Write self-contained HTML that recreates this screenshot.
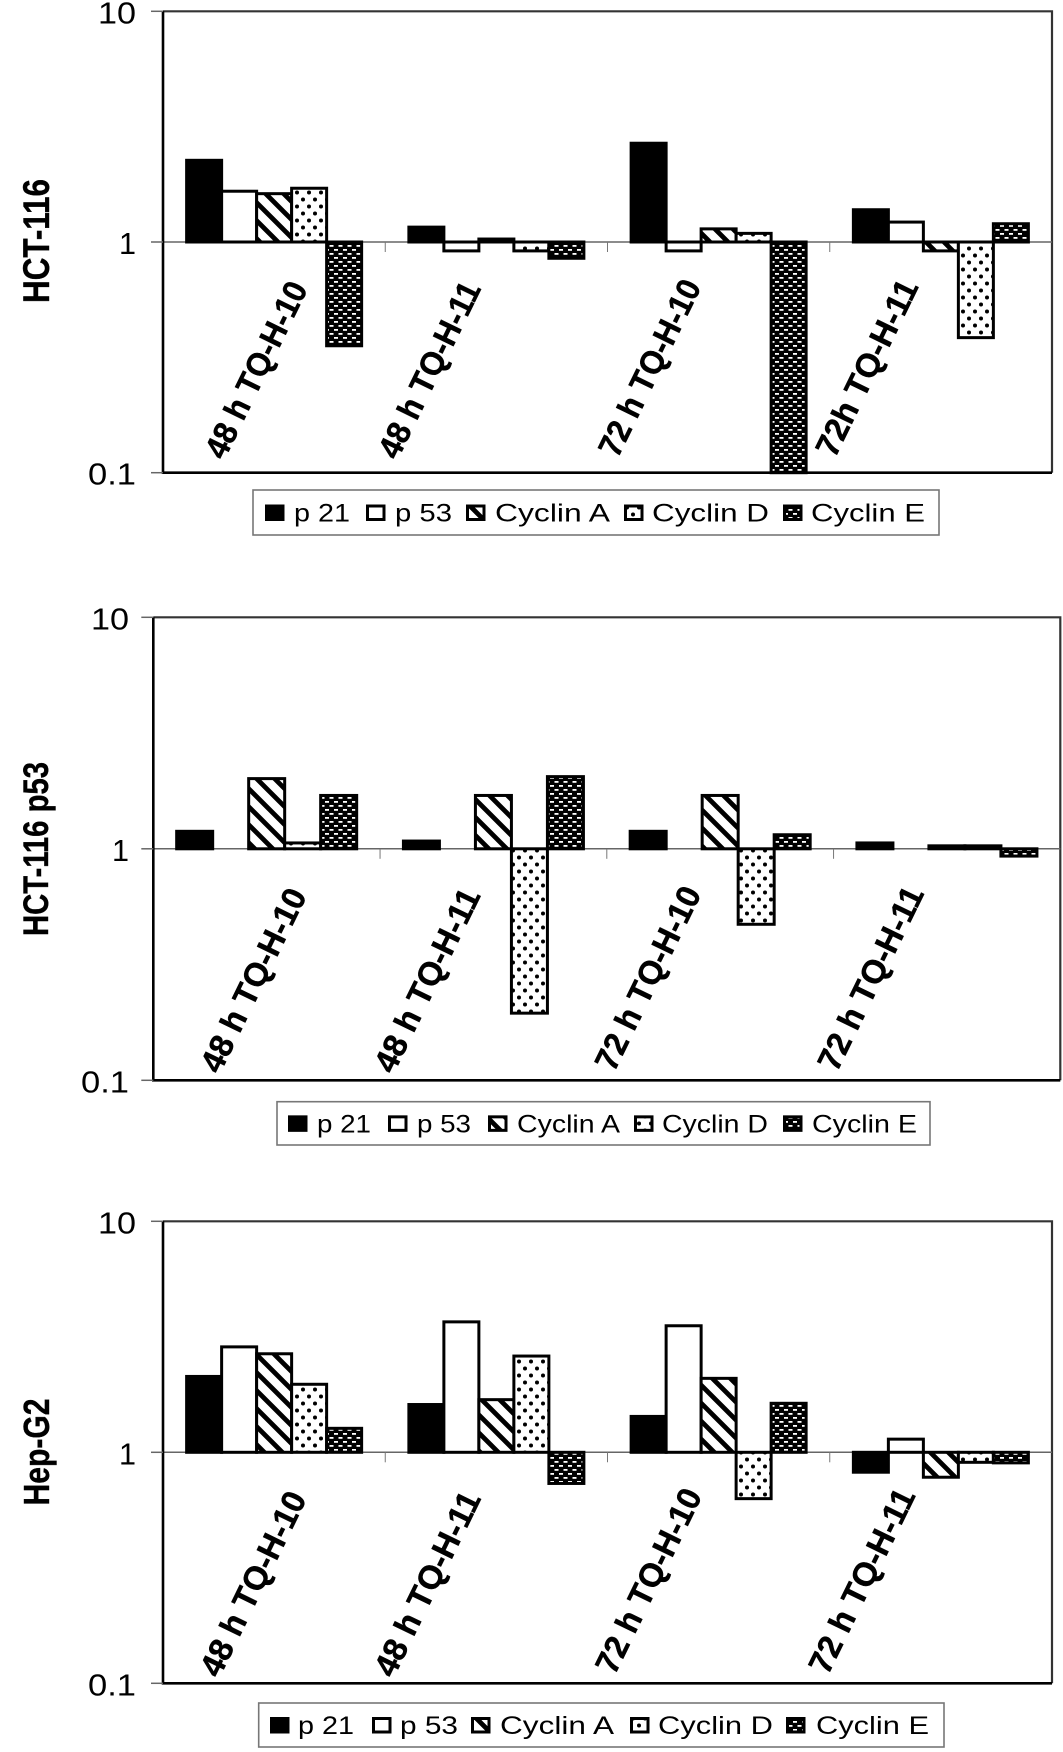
<!DOCTYPE html>
<html lang="en">
<head>
<meta charset="utf-8">
<title>Relative expression of cell-cycle proteins</title>
<style>
  html, body { margin: 0; padding: 0; background: #fff; }
  body { width: 1063px; height: 1752px; overflow: hidden; }
  svg { display: block; }
  text { font-family: "Liberation Sans", sans-serif; fill: #000; }
</style>
</head>
<body>
<svg id="figure" xmlns="http://www.w3.org/2000/svg" width="1063" height="1752" viewBox="0 0 1063 1752">
  <defs>
    <pattern id="stripe" patternUnits="userSpaceOnUse" width="18" height="18">
      <rect width="18" height="18" fill="#fff"/>
      <path d="M-6 -6L24 24M12 -6L30 12M-6 12L12 30" stroke="#000" stroke-width="4.8" fill="none"/>
    </pattern>
    <pattern id="dots" patternUnits="userSpaceOnUse" width="12" height="14">
      <rect width="12" height="14" fill="#fff"/>
      <circle cx="3" cy="3.5" r="2" fill="#000"/>
      <circle cx="9" cy="10.5" r="2" fill="#000"/>
    </pattern>
    <pattern id="brick" patternUnits="userSpaceOnUse" width="9" height="8">
      <rect width="9" height="8" fill="#000"/>
      <rect x="1" y="1" width="4" height="1.8" fill="#fff"/>
      <rect x="5.5" y="5" width="4" height="1.8" fill="#fff"/>
      <rect x="-3.5" y="5" width="4" height="1.8" fill="#fff"/>
    </pattern>
  </defs>
</svg>
<script>
// ---- shared categories, series and ticks ----
var seriesNames = ['p 21', 'p 53', 'Cyclin A', 'Cyclin D', 'Cyclin E'];
var tickValues = [10, 1, 0.1];
var tickLabels = ['10', '1', '0.1'];

// ---- HCT-116 ----
var hct116Categories = ['48 h TQ-H-10', '48 h TQ-H-11', '72 h TQ-H-10', '72h TQ-H-11'];
var hct116P21 = [2.26, 1.16, 2.68, 1.38];
var hct116P53 = [1.66, 0.915, 0.915, 1.22];
var hct116CyclinA = [1.62, 1.03, 1.14, 0.915];
var hct116CyclinD = [1.71, 0.915, 1.09, 0.385];
var hct116CyclinE = [0.355, 0.85, 0.1, 1.20];

// ---- HCT-116 p53 ----
var p53Categories = ['48 h TQ-H-10', '48 h TQ-H-11', '72 h TQ-H-10', '72 h TQ-H-11'];
var p53P21 = [1.19, 1.08, 1.19, 1.06];
var p53P53 = [1, 1, 1, 1];
var p53CyclinA = [2.01, 1.70, 1.70, 1.03];
var p53CyclinD = [1.06, 0.195, 0.472, 1.03];
var p53CyclinE = [1.70, 2.05, 1.15, 0.93];

// ---- Hep-G2 ----
var hepCategories = ['48 h TQ-H-10', '48 h TQ-H-11', '72 h TQ-H-10', '72 h TQ-H-11'];
var hepP21 = [2.13, 1.61, 1.43, 0.82];
var hepP53 = [2.86, 3.67, 3.53, 1.14];
var hepCyclinA = [2.67, 1.69, 2.09, 0.78];
var hepCyclinD = [1.97, 2.61, 0.63, 0.905];
var hepCyclinE = [1.27, 0.733, 1.63, 0.90];

// ---- rendering ----
var SVGNS = 'http://www.w3.org/2000/svg';
var figure = document.getElementById('figure');
var seriesFills = ['#000', '#fff', 'url(#stripe)', 'url(#dots)', 'url(#brick)'];

var charts = [
  {
    key: 'hct-116', title: 'HCT-116',
    categories: hct116Categories,
    series: [hct116P21, hct116P53, hct116CyclinA, hct116CyclinD, hct116CyclinE],
    frame: { left: 163, right: 1052, top: 11.3, bottom: 472.7 },
    barWidth: 35, tickRight: 136,
    titleBox: { x: 49, y: 241, size: 37, length: 124 },
    catLayout: { dx: [-50, -99, -101, -106], y: [461, 461, 459, 459], length: 192, size: 33 },
    legend: { x: 253, y: 490, w: 686, h: 45,
      swatch: [265, 366, 466, 624, 783], text: [294, 395, 495, 652, 811], textW: [56, 57, 115, 117, 114] }
  },
  {
    key: 'hct-116-p53', title: 'HCT-116 p53',
    categories: p53Categories,
    series: [p53P21, p53P53, p53CyclinA, p53CyclinD, p53CyclinE],
    frame: { left: 153.3, right: 1060.3, top: 617.3, bottom: 1080.3 },
    barWidth: 36, tickRight: 129,
    titleBox: { x: 48, y: 849, size: 35, length: 174 },
    catLayout: { dx: [-47, -100, -106, -110], y: [1075, 1075, 1073, 1073], length: 200, size: 33 },
    legend: { x: 277, y: 1101.7, w: 653, h: 43.3,
      swatch: [288, 388, 488, 634, 783], text: [317, 417, 517, 662, 812], textW: [54, 54, 103, 106, 105] }
  },
  {
    key: 'hep-g2', title: 'Hep-G2',
    categories: hepCategories,
    series: [hepP21, hepP53, hepCyclinA, hepCyclinD, hepCyclinE],
    frame: { left: 163, right: 1052, top: 1221.3, bottom: 1683.3 },
    barWidth: 35, tickRight: 136,
    titleBox: { x: 49, y: 1452, size: 36, length: 107 },
    catLayout: { dx: [-55, -103, -104, -113], y: [1679, 1679, 1676, 1676], length: 201, size: 33 },
    legend: { x: 258.7, y: 1703, w: 685.3, h: 44,
      swatch: [270, 372, 471, 630, 786], text: [298, 400, 500, 658, 816], textW: [56, 58, 114, 115, 113] }
  }
];

function make(tag, attrs, parent) {
  var el = document.createElementNS(SVGNS, tag);
  for (var k in attrs) { el.setAttribute(k, attrs[k]); }
  parent.appendChild(el);
  return el;
}

// Value axis: log10 scale from 0.1 at the bottom to 10 at the top.
function yScale(chart, value) {
  var f = chart.frame;
  return f.bottom - (Math.log10(value) + 1) / 2 * (f.bottom - f.top);
}
// Category axis: equal bands across the plot.
function bandWidth(chart) {
  return (chart.frame.right - chart.frame.left) / chart.categories.length;
}
function xCenter(chart, categoryIndex) {
  return chart.frame.left + bandWidth(chart) * (categoryIndex + 0.5);
}
function xBar(chart, categoryIndex, seriesIndex) {
  var n = chart.series.length;
  return xCenter(chart, categoryIndex) - chart.barWidth * n / 2 + chart.barWidth * seriesIndex;
}

charts.forEach(function (chart) {
  var f = chart.frame;
  var baseY = yScale(chart, 1);

  var g = make('g', {}, figure);
  
  

  // Plot background and top/right border
  var border = make('path', {
    d: 'M' + f.left + ' ' + f.top + 'H' + f.right + 'V' + f.bottom,
    fill: 'none', stroke: '#333', 'stroke-width': 2.2
  }, g);
  
  

  // Baseline at value 1
  var baseline = make('line', {
    x1: f.left, x2: f.right, y1: baseY, y2: baseY, stroke: '#666', 'stroke-width': 1.5
  }, g);
  
  

  // Category separators
  for (var c = 1; c < chart.categories.length; c++) {
    var sx = f.left + bandWidth(chart) * c;
    var sep = make('line', {
      x1: sx, x2: sx, y1: baseY, y2: baseY + 10, stroke: '#777', 'stroke-width': 1
    }, g);
    
    
  }

  // Bars
  chart.categories.forEach(function (cat, ci) {
    chart.series.forEach(function (values, si) {
      var v = values[ci];
      if (v === 1) { return; }
      var y = yScale(chart, v);
      var bar = make('rect', {
        x: xBar(chart, ci, si),
        y: Math.min(y, baseY),
        width: chart.barWidth,
        height: Math.abs(y - baseY),
        fill: seriesFills[si],
        stroke: '#000',
        'stroke-width': 3
      }, g);
      
      
    });
  });

  // Left and bottom axis lines
  var axes = make('path', {
    d: 'M' + f.left + ' ' + f.top + 'V' + f.bottom + 'H' + f.right,
    fill: 'none', stroke: '#000', 'stroke-width': 2.6
  }, g);
  
  

  // Value-axis ticks and labels
  tickValues.forEach(function (tv, ti) {
    var ty = yScale(chart, tv);
    var tick = make('line', {
      x1: f.left - 12, x2: f.left, y1: ty, y2: ty, stroke: '#666', 'stroke-width': 1.5
    }, g);
    
    

    var label = make('text', {
      x: chart.tickRight, y: ty + 12, 'text-anchor': 'end', 'font-size': 31,
      textLength: [38, 17, 48][ti], lengthAdjust: 'spacingAndGlyphs'
    }, g);
    label.textContent = tickLabels[ti];
    
    
  });

  // Value-axis title
  var tb = chart.titleBox;
  var title = make('text', {
    transform: 'translate(' + tb.x + ' ' + tb.y + ') rotate(-90)',
    'text-anchor': 'middle', 'font-size': tb.size, 'font-weight': 'bold',
    stroke: '#000', 'stroke-width': 0.4,
    textLength: tb.length, lengthAdjust: 'spacingAndGlyphs'
  }, g);
  title.textContent = chart.title;
  
  

  // Rotated category labels
  var cl = chart.catLayout;
  chart.categories.forEach(function (cat, ci) {
    var cx = xCenter(chart, ci) + cl.dx[ci];
    var label = make('text', {
      transform: 'translate(' + cx + ' ' + cl.y[ci] + ') rotate(-64)',
      'font-size': cl.size, 'font-weight': 'bold',
      stroke: '#000', 'stroke-width': 0.5,
      textLength: cl.length, lengthAdjust: 'spacingAndGlyphs'
    }, g);
    label.textContent = cat;
    
    
  });

  // Legend
  var lg = chart.legend;
  var legendGroup = make('g', {}, g);
  
  

  var legendBox = make('rect', {
    x: lg.x, y: lg.y, width: lg.w, height: lg.h, fill: '#fff', stroke: '#777', 'stroke-width': 1.6
  }, legendGroup);
  
  

  var midY = lg.y + lg.h / 2;
  seriesNames.forEach(function (name, si) {
    var swatch = make('rect', {
      x: lg.swatch[si] + 1.5, y: midY - 6.5, width: 16.5, height: 13.5,
      fill: seriesFills[si], stroke: '#000', 'stroke-width': 3
    }, legendGroup);
    
    

    var entry = make('text', {
      x: lg.text[si], y: midY + 9, 'font-size': 25,
      textLength: lg.textW[si], lengthAdjust: 'spacingAndGlyphs'
    }, legendGroup);
    entry.textContent = name;
    
    
  });
});
</script>
</body>
</html>
